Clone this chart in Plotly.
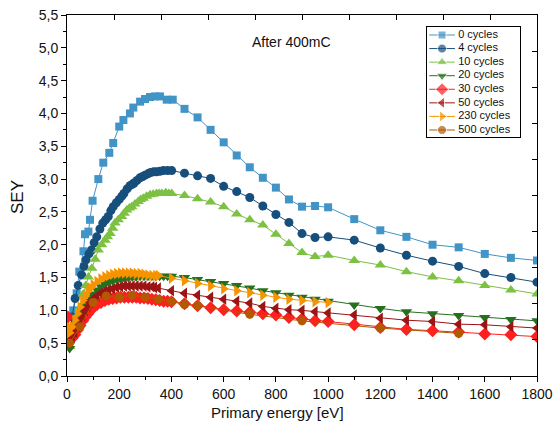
import plotly.graph_objects as go

names = ["0 cycles", "4 cycles", "10 cycles", "20 cycles", "30 cycles", "50 cycles", "230 cycles", "500 cycles"]
colors = ["#4294c7", "#174f7c", "#7cc142", "#25701f", "#ff1f1f", "#9c1414", "#f59300", "#b35900"]
symbols = ["square", "circle", "triangle-up", "triangle-down", "diamond", "triangle-left", "triangle-right", "circle"]
msizes = [8, 9, 10, 10, 10, 10, 10, 9]

E0 = [12, 24, 37, 47, 63, 69, 82, 88, 98, 120, 139, 162, 177, 200, 216, 241, 254, 280, 299, 318, 337, 356, 382, 405,
      450, 500, 550, 600, 650, 700, 750, 800, 850, 900, 950, 1000, 1100, 1200, 1300, 1400, 1500, 1600, 1700, 1800]
S0 = [0.72, 1.00, 1.26, 1.59, 1.90, 2.16, 2.20, 2.38, 2.67, 3.00, 3.25, 3.40, 3.55, 3.80, 3.90, 4.00, 4.09, 4.18, 4.22,
      4.25, 4.26, 4.26, 4.21, 4.21, 4.07, 3.94, 3.75, 3.56, 3.36, 3.18, 3.02, 2.87, 2.69, 2.58, 2.59, 2.57, 2.39, 2.22,
      2.12, 2.00, 1.96, 1.86, 1.80, 1.76]

E1 = [10, 20, 31, 43, 56, 65, 73, 84, 94, 104, 114, 126, 137, 148, 158, 168, 177, 189, 200, 210, 218, 230, 241, 250,
      257, 268, 280, 290, 299, 310, 320, 332, 343, 356, 369, 385, 401, 450, 500, 550, 600, 650, 700, 750, 800, 850,
      900, 950, 1000, 1100, 1200, 1300, 1400, 1500, 1600, 1700, 1800]
S1 = [0.65, 0.90, 1.18, 1.38, 1.54, 1.67, 1.77, 1.86, 1.92, 2.03, 2.12, 2.24, 2.33, 2.38, 2.43, 2.52, 2.58, 2.64, 2.69,
      2.74, 2.78, 2.85, 2.90, 2.92, 2.94, 2.98, 3.02, 3.04, 3.06, 3.08, 3.10, 3.11, 3.11, 3.12, 3.13, 3.13, 3.13, 3.09,
      3.05, 3.01, 2.89, 2.81, 2.72, 2.59, 2.46, 2.34, 2.17, 2.11, 2.12, 2.07, 1.95, 1.84, 1.75, 1.67, 1.56, 1.50, 1.43]

E2 = [10, 20, 30, 40, 52, 62, 72, 82, 95, 108, 120, 133, 146, 155, 165, 175, 184, 196, 209, 219, 229, 239, 248, 260,
      273, 282, 292, 305, 318, 330, 343, 353, 363, 378, 390, 401, 450, 500, 550, 600, 650, 700, 750, 800, 850, 900,
      950, 1000, 1100, 1200, 1300, 1400, 1500, 1600, 1700, 1800]
S2 = [0.45, 0.62, 0.80, 0.93, 1.05, 1.25, 1.38, 1.51, 1.64, 1.78, 1.92, 2.00, 2.07, 2.12, 2.17, 2.25, 2.33, 2.38, 2.43,
      2.48, 2.53, 2.56, 2.58, 2.62, 2.66, 2.69, 2.71, 2.74, 2.76, 2.77, 2.78, 2.78, 2.78, 2.79, 2.78, 2.78, 2.75, 2.70,
      2.65, 2.58, 2.47, 2.38, 2.30, 2.16, 2.02, 1.88, 1.82, 1.84, 1.76, 1.69, 1.59, 1.51, 1.45, 1.38, 1.31, 1.25]

E3 = [10, 20, 30, 40, 50, 60, 70, 80, 90, 100, 115, 130, 145, 160, 175, 190, 205, 220, 235, 250, 265, 280, 295, 310,
      325, 340, 355, 370, 385, 400, 450, 500, 550, 600, 650, 700, 750, 800, 850, 900, 950, 1000, 1100, 1200, 1300,
      1400, 1500, 1600, 1700, 1800]
S3 = [0.42, 0.55, 0.68, 0.80, 0.90, 0.99, 1.07, 1.14, 1.20, 1.25, 1.31, 1.36, 1.40, 1.43, 1.45, 1.47, 1.48, 1.49, 1.50,
      1.51, 1.51, 1.52, 1.52, 1.52, 1.52, 1.52, 1.52, 1.52, 1.52, 1.52, 1.50, 1.47, 1.44, 1.41, 1.38, 1.34, 1.30, 1.27,
      1.23, 1.20, 1.17, 1.14, 1.08, 1.03, 0.98, 0.95, 0.92, 0.89, 0.86, 0.84]

E4 = [3, 10, 20, 30, 40, 50, 60, 70, 80, 90, 100, 115, 130, 145, 160, 175, 190, 205, 220, 235, 250, 265, 280, 295, 310,
      325, 340, 355, 370, 385, 400, 450, 500, 550, 600, 650, 700, 750, 800, 850, 900, 950, 1000, 1100, 1200, 1300,
      1400, 1500, 1600, 1700, 1800]
S4 = [0.90, 0.62, 0.58, 0.63, 0.70, 0.77, 0.84, 0.90, 0.95, 1.00, 1.04, 1.09, 1.12, 1.15, 1.17, 1.18, 1.19, 1.20, 1.20,
      1.20, 1.20, 1.20, 1.19, 1.19, 1.18, 1.17, 1.16, 1.15, 1.14, 1.14, 1.13, 1.10, 1.07, 1.04, 1.01, 0.99, 0.97, 0.95,
      0.93, 0.89, 0.87, 0.84, 0.83, 0.78, 0.74, 0.71, 0.69, 0.67, 0.64, 0.63, 0.60]

E5 = [5, 10, 20, 30, 40, 50, 60, 70, 80, 90, 100, 115, 130, 145, 160, 175, 190, 205, 220, 235, 250, 265, 280, 295, 310,
      325, 335, 350, 400, 450, 500, 550, 600, 650, 700, 750, 800, 850, 900, 950, 1000, 1100, 1200, 1300, 1400, 1500,
      1600, 1700, 1800]
S5 = [0.55, 0.52, 0.58, 0.66, 0.75, 0.84, 0.92, 1.00, 1.06, 1.12, 1.17, 1.22, 1.26, 1.29, 1.31, 1.33, 1.35, 1.36, 1.37,
      1.37, 1.37, 1.37, 1.37, 1.37, 1.36, 1.36, 1.35, 1.34, 1.30, 1.26, 1.23, 1.20, 1.17, 1.14, 1.11, 1.06, 1.03, 1.01,
      1.00, 0.98, 0.96, 0.93, 0.88, 0.85, 0.83, 0.79, 0.78, 0.75, 0.73]

E6 = [5, 10, 20, 30, 40, 50, 60, 70, 80, 90, 100, 115, 130, 145, 160, 175, 190, 205, 220, 235, 250, 265, 280, 295, 310,
      325, 340, 350, 400, 450, 500, 550, 600, 650, 700, 750, 800, 850, 900, 950, 1000]
S6 = [0.75, 0.66, 0.75, 0.85, 0.95, 1.05, 1.15, 1.22, 1.29, 1.34, 1.39, 1.44, 1.48, 1.51, 1.53, 1.55, 1.56, 1.57, 1.57,
      1.57, 1.57, 1.56, 1.56, 1.55, 1.54, 1.53, 1.53, 1.53, 1.49, 1.45, 1.41, 1.37, 1.33, 1.30, 1.27, 1.23, 1.20, 1.17,
      1.15, 1.13, 1.12]

E7 = [10, 50, 100, 150, 200, 250, 300, 350, 400, 450, 500, 700, 900, 1200, 1500]
S7 = [0.50, 0.75, 1.12, 1.22, 1.20, 1.23, 1.20, 1.17, 1.14, 1.09, 1.07, 0.94, 0.84, 0.73, 0.65]

energies = [E0, E1, E2, E3, E4, E5, E6, E7]
seys = [S0, S1, S2, S3, S4, S5, S6, S7]

FONT = "Liberation Sans, Arial, sans-serif"

fig = go.Figure()
for n, c, s, ms, ex, sy in zip(names, colors, symbols, msizes, energies, seys):
    fig.add_trace(go.Scatter(x=ex, y=sy, name=n, mode="lines+markers", showlegend=False,
                             line=dict(color=c, width=1),
                             marker=dict(symbol=s, size=ms, color=c)))

# custom legend drawn in its own small axes (pixel units inside the legend box)
LW, LH = 93, 109.4
row_h = 13.57
for i, (n, c, s, ms) in enumerate(zip(names, colors, symbols, msizes)):
    yy = LH - 7.7 - i * row_h
    fig.add_trace(go.Scatter(x=[2, 14.8, 27.7], y=[yy, yy, yy], mode="lines+markers", xaxis="x3", yaxis="y3",
                             showlegend=False, hoverinfo="skip",
                             line=dict(color=c, width=1),
                             marker=dict(symbol=s, size=[0, ms, 0], color=c)))
    fig.add_trace(go.Scatter(x=[31], y=[yy], mode="text", text=[n], textposition="middle right",
                             xaxis="x3", yaxis="y3", showlegend=False, hoverinfo="skip", cliponaxis=False,
                             textfont=dict(family=FONT, size=11, color="#111")))

# invisible trace so the mirror axes are drawn
fig.add_trace(go.Scatter(x=[0], y=[0], xaxis="x2", yaxis="y2", mode="markers",
                         marker=dict(opacity=0), showlegend=False, hoverinfo="skip"))

axis_common = dict(showgrid=False, zeroline=False, linecolor="black", linewidth=1,
                   tickcolor="black", tickwidth=1, automargin=False,
                   tickfont=dict(family=FONT, size=14, color="#111"))

fig.update_layout(
    width=558, height=427,
    margin=dict(l=67, r=21, t=15, b=51, autoexpand=False),
    plot_bgcolor="white", paper_bgcolor="white",
    separators=",.",
    showlegend=False,
    xaxis=dict(range=[0, 1800], dtick=200, tick0=0, ticks="outside", ticklen=5, showline=True, mirror=True,
               tickformat="d", minor=dict(dtick=100, ticklen=3, ticks="outside", tickcolor="black"),
               **axis_common),
    yaxis=dict(range=[0, 5.5], dtick=0.5, tick0=0, ticks="outside", ticklen=5, showline=True, mirror=True,
               tickformat=".1f", minor=dict(dtick=0.25, ticklen=3, ticks="outside", tickcolor="black"),
               **axis_common),
    xaxis2=dict(overlaying="x", side="top", range=[0, 1800], dtick=180, tick0=0, ticks="inside", ticklen=5,
                showticklabels=False, showgrid=False, zeroline=False, tickcolor="black", showline=False,
                automargin=False),
    yaxis2=dict(overlaying="y", side="right", range=[0, 5.5], dtick=0.55, tick0=0, ticks="inside", ticklen=5,
                showticklabels=False, showgrid=False, zeroline=False, tickcolor="black", showline=False,
                anchor="x2", automargin=False),
    xaxis3=dict(domain=[(427.3 - 67) / 470, (520 - 67) / 470], range=[0, LW], anchor="y3",
                showline=True, mirror=True, linecolor="black", linewidth=1, ticks="",
                showticklabels=False, showgrid=False, zeroline=False, fixedrange=True, automargin=False),
    yaxis3=dict(domain=[(376 - 136.7) / 361, (376 - 27.3) / 361], range=[0, LH], anchor="x3",
                showline=True, mirror=True, linecolor="black", linewidth=1, ticks="",
                showticklabels=False, showgrid=False, zeroline=False, fixedrange=True, automargin=False),
    annotations=[
        dict(text="After 400mC", x=(250 - 67) / 470, y=(376 - 42) / 361, xref="paper", yref="paper",
             xanchor="left", yanchor="middle", showarrow=False, font=dict(family=FONT, size=14, color="#111")),
        dict(text="Primary energy [eV]", x=(277 - 67) / 470, y=(376 - 412) / 361, xref="paper", yref="paper",
             xanchor="center", yanchor="middle", showarrow=False, font=dict(family=FONT, size=15, color="#111")),
        dict(text="SEY", x=(17 - 67) / 470, y=(376 - 197) / 361, xref="paper", yref="paper", textangle=-90,
             xanchor="center", yanchor="middle", showarrow=False, font=dict(family=FONT, size=17, color="#111")),
    ],
)

fig.write_html("out.html")
